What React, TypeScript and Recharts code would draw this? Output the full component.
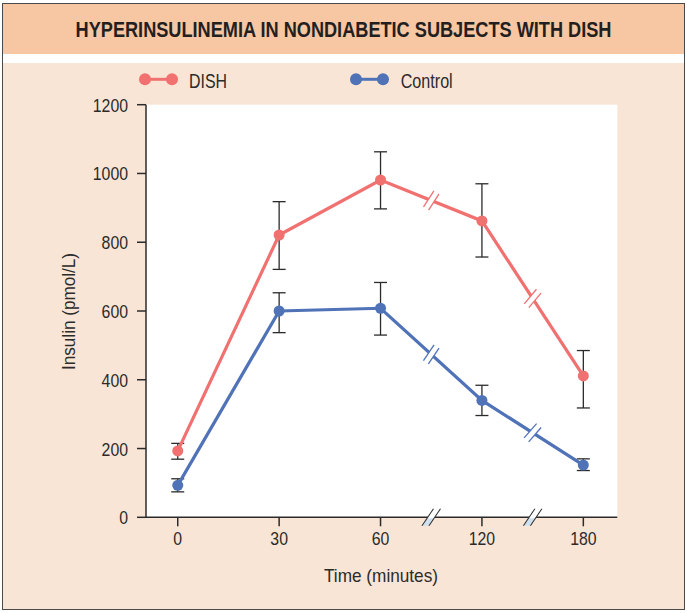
import React from "react";
import { LineChart, Line, XAxis, YAxis, ErrorBar, ReferenceDot, CartesianGrid } from "recharts";

const timeLabels = ["0", "30", "60", "120", "180"];
const dishMean = [193, 821, 981, 862, 411];
// [below, above]
const dishErr = [[24, 22], [100, 97], [84, 82], [105, 108], [93, 74]];
const controlMean = [93, 600, 608, 340, 152];
const controlErr = [[19, 19], [63, 53], [78, 75], [44, 44], [16, 18]];
const yTicks = [0, 200, 400, 600, 800, 1000, 1200];
// axis breaks sit between 60 and 120, and between 120 and 180
const breakAt = [2.5, 3.5];

const DISH = "#f07170";
const CONTROL = "#5073b8";
const INK = "#2b2b2b";
const FONT = '"Liberation Sans", Arial, sans-serif';
const DIGIT_W = 8.8;

const data = timeLabels.map((t, i) => ({
  idx: i,
  dish: dishMean[i],
  dishErr: dishErr[i],
  control: controlMean[i],
  controlErr: controlErr[i],
}));

const mid = (arr: number[], x: number) => (arr[Math.floor(x)] + arr[Math.ceil(x)]) / 2;

function YTick(props: any) {
  const { x, y, payload } = props;
  const s = String(payload.value);
  return (
    <text x={x} y={y + 7} textAnchor="end" fontSize={19} fontFamily={FONT} fill={INK}
      textLength={s.length * DIGIT_W} lengthAdjust="spacingAndGlyphs">
      {s}
    </text>
  );
}

function XTick(props: any) {
  const { x, y, payload } = props;
  const s = timeLabels[payload.value];
  return (
    <text x={x} y={y + 12.4} textAnchor="middle" fontSize={19} fontFamily={FONT} fill={INK}
      textLength={s.length * DIGIT_W} lengthAdjust="spacingAndGlyphs">
      {s}
    </text>
  );
}

function LineBreak(props: any) {
  const { cx, cy, color, angle } = props;
  if (cx == null || cy == null) return null;
  return (
    <g transform={`translate(${cx},${cy}) rotate(${angle})`}>
      <rect x={-3} y={-9.5} width={6} height={19} fill="#fff" />
      <line x1={-3} y1={-9.5} x2={-3} y2={9.5} stroke={color} strokeWidth={1.3} />
      <line x1={3} y1={-9.5} x2={3} y2={9.5} stroke={color} strokeWidth={1.3} />
    </g>
  );
}

function AxisBreak(props: any) {
  const { cx, cy } = props;
  if (cx == null || cy == null) return null;
  return (
    <g transform={`translate(${cx},${cy}) skewX(-34)`}>
      <rect x={-3.5} y={-8.5} width={7} height={8.5} fill="#fff" />
      <rect x={-3.5} y={0} width={7} height={8.5} fill="#cfe0ef" />
      <rect x={-3.5} y={-1} width={7} height={2} fill="#fff" />
      <line x1={-3.5} y1={-8.5} x2={-3.5} y2={8.5} stroke={INK} strokeWidth={1.2} />
      <line x1={3.5} y1={-8.5} x2={3.5} y2={8.5} stroke={INK} strokeWidth={1.2} />
    </g>
  );
}

function LegendMark({ color, x }: { color: string; x: number }) {
  return (
    <g>
      <line x1={x} y1={79.3} x2={x + 27} y2={79.3} stroke={color} strokeWidth={3} />
      <circle cx={x} cy={79.3} r={6} fill={color} />
      <circle cx={x + 27} cy={79.3} r={6} fill={color} />
    </g>
  );
}

export default function App() {
  return (
    <div style={{ position: "fixed", left: 0, top: 0, width: 687, height: 613, background: "#fff" }}>
      <div
        style={{
          position: "absolute",
          left: 2,
          top: 3,
          width: 681,
          height: 605,
          border: "1.5px solid #4a4a4a",
          background: "#f9e5d6",
        }}
      >
        <div style={{ height: 50, background: "#f7c6a2" }} />
        <div style={{ height: 9, background: "#fff" }} />
      </div>

      <div style={{ position: "absolute", left: 0, top: 0 }}>
        <LineChart width={687} height={613} data={data} margin={{ top: 104.7, right: 69.7, bottom: 0, left: 0 }}>
          <CartesianGrid horizontal={false} vertical={false} fill="#ffffff" stroke="none" />
          <XAxis
            type="number"
            dataKey="idx"
            domain={[-0.313, 4.335]}
            ticks={[0, 1, 2, 3, 4]}
            allowDataOverflow
            height={95.7}
            tickSize={9}
            tickMargin={6}
            stroke={INK}
            strokeWidth={1.5}
            tick={<XTick />}
          />
          <YAxis
            type="number"
            domain={[0, 1200]}
            ticks={yTicks}
            width={146}
            tickSize={9}
            tickMargin={9}
            stroke={INK}
            strokeWidth={1.5}
            tick={<YTick />}
          />
          <Line
            dataKey="dish"
            stroke={DISH}
            strokeWidth={3.2}
            dot={{ r: 5.5, fill: DISH, stroke: DISH, strokeWidth: 0 }}
            isAnimationActive={false}
          >
            <ErrorBar dataKey="dishErr" direction="y" width={6.5} stroke={INK} strokeWidth={1.3} />
          </Line>
          <Line
            dataKey="control"
            stroke={CONTROL}
            strokeWidth={3.2}
            dot={{ r: 5.5, fill: CONTROL, stroke: CONTROL, strokeWidth: 0 }}
            isAnimationActive={false}
          >
            <ErrorBar dataKey="controlErr" direction="y" width={6.5} stroke={INK} strokeWidth={1.3} />
          </Line>
          <ReferenceDot x={breakAt[0]} y={mid(dishMean, breakAt[0])} shape={(p: any) => <LineBreak {...p} color={DISH} angle={33} />} />
          <ReferenceDot x={breakAt[1]} y={mid(dishMean, breakAt[1])} shape={(p: any) => <LineBreak {...p} color={DISH} angle={40} />} />
          <ReferenceDot x={breakAt[0]} y={mid(controlMean, breakAt[0])} shape={(p: any) => <LineBreak {...p} color={CONTROL} angle={34} />} />
          <ReferenceDot x={breakAt[1]} y={mid(controlMean, breakAt[1])} shape={(p: any) => <LineBreak {...p} color={CONTROL} angle={41} />} />
          {breakAt.map((b) => (
            <ReferenceDot key={b} x={b} y={0} ifOverflow="visible" shape={(p: any) => <AxisBreak {...p} />} />
          ))}
        </LineChart>
      </div>

      <svg width={687} height={613} style={{ position: "absolute", left: 0, top: 0, pointerEvents: "none" }}>
        <text transform="translate(343.5,36.7) scale(0.826,1)" textAnchor="middle" fontSize={22} fontWeight={700}
          fontFamily={FONT} fill="#231f20">
          HYPERINSULINEMIA IN NONDIABETIC SUBJECTS WITH DISH
        </text>
        <LegendMark color={DISH} x={145} />
        <text x={189} y={87.7} fontSize={21} fontFamily={FONT} fill={INK} textLength={38} lengthAdjust="spacingAndGlyphs">
          DISH
        </text>
        <LegendMark color={CONTROL} x={356} />
        <text x={400.7} y={87.7} fontSize={21} fontFamily={FONT} fill={INK} textLength={52} lengthAdjust="spacingAndGlyphs">
          Control
        </text>
        <text transform="translate(75,311.5) rotate(-90)" textAnchor="middle" fontSize={19} fontFamily={FONT} fill={INK}
          textLength={117} lengthAdjust="spacingAndGlyphs">
          Insulin (pmol/L)
        </text>
        <text x={381} y={581.7} textAnchor="middle" fontSize={19} fontFamily={FONT} fill={INK}
          textLength={114} lengthAdjust="spacingAndGlyphs">
          Time (minutes)
        </text>
      </svg>
    </div>
  );
}
